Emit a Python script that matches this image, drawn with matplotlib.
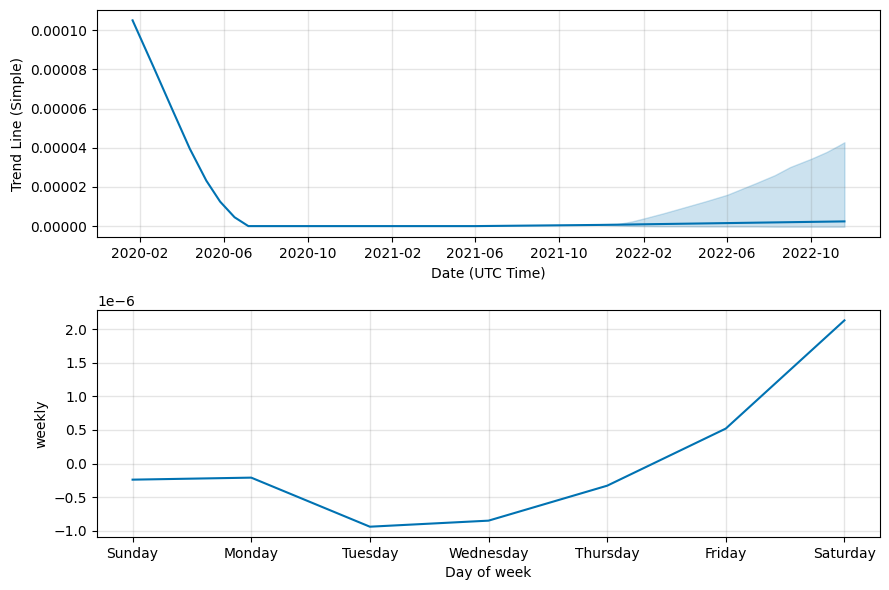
import numpy as np
import pandas as pd
import matplotlib
matplotlib.use('Agg')
import matplotlib.pyplot as plt
import matplotlib.dates as mdates

# ── trend component ────────────────────────────────────────────────────────
trend_dates = pd.to_datetime([
    '2020-01-21', '2020-02-20', '2020-03-18', '2020-04-13', '2020-05-07',
    '2020-05-27', '2020-06-17', '2020-07-07', '2021-06-01', '2021-11-29',
    '2022-11-19'])
trend_vals = np.array([105.0, 81.5, 60.0, 39.5, 23.2,
                       12.5, 4.5, 0.0, 0.0, 0.6, 2.4]) * 1e-6

# uncertainty band (forecast part only)
band_dates = pd.to_datetime([
    '2021-11-29', '2021-12-23', '2022-01-15', '2022-02-02', '2022-03-01',
    '2022-03-30', '2022-05-01', '2022-06-02', '2022-07-14', '2022-08-10',
    '2022-09-01', '2022-10-02', '2022-10-24', '2022-11-10', '2022-11-19'])
band_upper = np.array([0.6, 0.9, 2.4, 4.0, 6.5, 9.4, 12.6, 16.0, 22.0,
                       26.0, 30.1, 34.4, 37.8, 41.0, 42.8]) * 1e-6
band_lower = np.array([0.6, 0.3, 0.1, 0.0, -0.1, -0.1, -0.2, -0.2, -0.2,
                       -0.3, -0.3, -0.3, -0.3, -0.3, -0.3]) * 1e-6

# ── weekly component ───────────────────────────────────────────────────────
days = ['Sunday', 'Monday', 'Tuesday', 'Wednesday', 'Thursday', 'Friday', 'Saturday']
weekly_vals = np.array([-0.24, -0.21, -0.94, -0.85, -0.33, 0.52, 2.13]) * 1e-6

BLUE = '#0072B2'

fig = plt.figure(figsize=(8.89, 5.90), dpi=100)
ax1 = fig.add_axes([0.1091, 0.5983, 0.8808, 0.3847])
ax2 = fig.add_axes([0.1091, 0.0898, 0.8808, 0.3847])

# ── top panel: trend ───────────────────────────────────────────────────────
ax1.plot(trend_dates, trend_vals, ls='-', c=BLUE)
ax1.fill_between(band_dates, band_lower, band_upper, color=BLUE, alpha=0.2)
ax1.xaxis.set_major_locator(mdates.MonthLocator(bymonth=[2, 6, 10]))
ax1.xaxis.set_major_formatter(mdates.DateFormatter('%Y-%m'))
ax1.grid(True, which='major', c='gray', ls='-', lw=1, alpha=0.2)
ax1.set_xlabel('Date (UTC Time)')
ax1.set_ylabel('Trend Line (Simple)')

# ── bottom panel: weekly ───────────────────────────────────────────────────
ax2.plot(range(len(days)), weekly_vals, ls='-', c=BLUE)
ax2.set_xticks(range(len(days)))
ax2.set_xticklabels(days)
ax2.grid(True, which='major', c='gray', ls='-', lw=1, alpha=0.2)
ax2.set_xlabel('Day of week')
ax2.set_ylabel('weekly')

fig.savefig('out.png', dpi=100)
